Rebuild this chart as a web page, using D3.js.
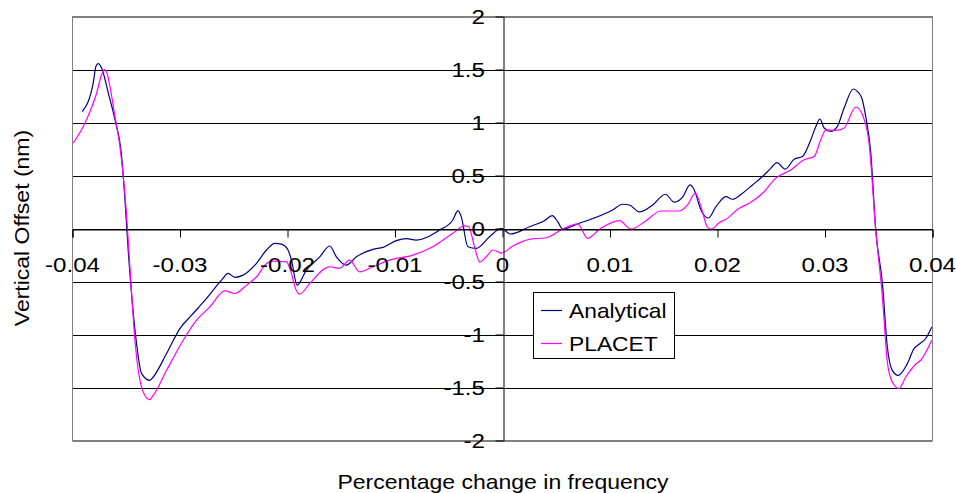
<!DOCTYPE html>
<html>
<head>
<meta charset="utf-8">
<script src="https://cdn.jsdelivr.net/npm/d3@7"></script>
<style>
  body { margin: 0; background: #fff; }
  text { font-family: "Liberation Sans", Arial, sans-serif; fill: #000; }
</style>
</head>
<body>
<script>
//Width and height
var w = 956;
var h = 493;

//Series names and colours
var seriesNames = ["Analytical", "PLACET"];
var seriesColors = ["#000080", "#ff00ff"];

//Tick values
var xTicks = [-0.04, -0.03, -0.02, -0.01, 0, 0.01, 0.02, 0.03, 0.04];
var yTicks = [-2, -1.5, -1, -0.5, 0, 0.5, 1, 1.5, 2];

//Analytical curve
var analyticalX = [-0.0391,-0.03807,-0.03782,-0.0376,-0.03729,-0.03667,-0.03605,-0.03543,-0.03512,-0.03482,
  -0.03404,-0.03357,-0.0328,-0.03249,-0.03125,-0.03001,-0.02892,-0.02753,-0.02614,-0.02552,
  -0.0249,-0.02413,-0.02289,-0.02196,-0.02118,-0.02056,-0.01995,-0.01963,-0.01911,-0.01824,
  -0.017,-0.01607,-0.01545,-0.01452,-0.01359,-0.01205,-0.01112,-0.00988,-0.00895,-0.00802,
  -0.00585,-0.00462,-0.00415,-0.00384,-0.00322,-0.00244,-0.00121,-0.0001,0.00074,0.00251,
  0.0039,0.00462,0.00514,0.0056,0.00715,0.01025,0.01118,0.0118,0.01273,0.01397,
  0.01515,0.01598,0.01675,0.01744,0.01784,0.01846,0.01914,0.01986,0.02079,0.0214,
  0.02233,0.02326,0.02419,0.02497,0.02552,0.0263,0.02713,0.0279,0.02868,0.02915,
  0.02952,0.02992,0.03054,0.03115,0.03178,0.03264,0.03301,0.03342,0.03379,0.03426,
  0.03472,0.03534,0.0358,0.03626,0.03682,0.03766,0.03828,0.03875,0.03937,0.03993];
var analyticalY = [1.102,1.373,1.530,1.556,1.515,1.278,1.026,0.679,0.270,-0.203,
  -1.086,-1.369,-1.433,-1.401,-1.180,-0.944,-0.818,-0.660,-0.487,-0.424,
  -0.461,-0.440,-0.329,-0.203,-0.140,-0.147,-0.203,-0.298,-0.534,-0.392,
  -0.267,-0.165,-0.267,-0.345,-0.267,-0.197,-0.178,-0.115,-0.096,-0.109,
  -0.014,0.080,0.168,0.112,-0.172,-0.187,-0.078,0.000,-0.052,0.017,
  0.074,0.121,0.064,-0.005,0.049,0.175,0.229,0.222,0.156,0.222,
  0.323,0.248,0.295,0.411,0.364,0.175,0.099,0.206,0.301,0.276,
  0.333,0.411,0.490,0.569,0.622,0.560,0.654,0.679,0.837,0.963,
  1.033,0.948,0.915,0.963,1.137,1.316,1.294,1.231,1.057,0.711,
  -0.014,-0.518,-1.118,-1.338,-1.385,-1.275,-1.133,-1.092,-1.038,-0.929];

//PLACET curve
var placetX = [-0.03993,-0.039,-0.03837,-0.03775,-0.03729,-0.03705,-0.03682,-0.03652,-0.03605,-0.03559,
  -0.03496,-0.03466,-0.03419,-0.03357,-0.03286,-0.03249,-0.03125,-0.0297,-0.02846,-0.02722,
  -0.02583,-0.0249,-0.02381,-0.02274,-0.02211,-0.02134,-0.0201,-0.01963,-0.01933,-0.01886,
  -0.01793,-0.01607,-0.01515,-0.01422,-0.01329,-0.01205,-0.0105,-0.00833,-0.00648,-0.00462,
  -0.00353,-0.00316,-0.0026,-0.00211,-0.00151,-0.0009,-0.0001,0.00096,0.00251,0.00406,
  0.0056,0.007,0.00793,0.00901,0.01087,0.01196,0.01335,0.01475,0.01645,0.01722,
  0.01793,0.01846,0.01908,0.01942,0.02016,0.02079,0.02202,0.02295,0.02419,0.02543,
  0.02682,0.02806,0.02899,0.02961,0.03008,0.03101,0.03178,0.03286,0.03348,0.0341,
  0.03472,0.03534,0.0358,0.03626,0.03689,0.03751,0.03844,0.0389,0.03993];
var placetY = [0.806,0.963,1.104,1.278,1.452,1.499,1.473,1.341,1.057,0.774,
  0.112,-0.361,-1.054,-1.496,-1.615,-1.574,-1.338,-1.054,-0.865,-0.739,
  -0.588,-0.613,-0.534,-0.440,-0.345,-0.307,-0.314,-0.424,-0.544,-0.619,
  -0.518,-0.361,-0.376,-0.298,-0.409,-0.361,-0.298,-0.251,-0.172,-0.045,
  0.024,0.019,-0.172,-0.317,-0.267,-0.203,-0.232,-0.165,-0.102,-0.087,
  -0.005,0.043,-0.093,-0.008,0.074,-0.005,0.074,0.165,0.165,0.222,
  0.333,0.206,0.011,-0.005,0.055,0.087,0.191,0.238,0.333,0.475,
  0.553,0.648,0.679,0.837,0.931,0.925,0.948,1.146,1.073,0.806,
  -0.014,-0.645,-1.260,-1.449,-1.511,-1.401,-1.281,-1.243,-1.054];

var seriesX = [analyticalX, placetX];
var seriesY = [analyticalY, placetY];

//Text is drawn a little wider than the font, like the original
var stretch = 1.15;

//Scales
var x = d3.scaleLinear().domain([-0.04, 0.04]).range([72.5, 932.5]);
var y = d3.scaleLinear().domain([-2, 2]).range([440.5, 16.5]);

//Create SVG element
var svg = d3.select("body")
            .append("svg")
            .attr("width", w)
            .attr("height", h);

//Horizontal gridlines
svg.append("g")
   .selectAll("line")
   .data(yTicks)
   .enter()
   .append("line")
   .attr("x1", x(-0.04))
   .attr("x2", x(0.04))
   .attr("y1", function(d) { return Math.round(y(d)) + 0.5; })
   .attr("y2", function(d) { return Math.round(y(d)) + 0.5; })
   .attr("stroke", function(d) { return (d === 2 || d === -2) ? "#808080" : "#000"; })
   .attr("stroke-width", 1);

//Plot area border
svg.append("rect")
   .attr("x", x(-0.04))
   .attr("y", y(2))
   .attr("width", x(0.04) - x(-0.04))
   .attr("height", y(-2) - y(2))
   .attr("fill", "none")
   .attr("stroke", "#808080");

//Curves
var line = d3.line()
             .x(function(d) { return x(d[0]); })
             .y(function(d) { return y(d[1]); })
             .curve(d3.curveMonotoneX);

seriesNames.forEach(function(name, i) {
    var pts = d3.zip(seriesX[i], seriesY[i]);
    svg.append("path")
       .datum(pts)
       .attr("d", line)
       .attr("fill", "none")
       .attr("stroke", seriesColors[i])
       .attr("stroke-width", 1.2);
});

//X axis on y = 0, ticks pointing down
var xAxis = svg.append("g")
   .attr("transform", "translate(0," + (Math.round(y(0)) + 0.5) + ")")
   .call(d3.axisBottom(x).tickValues(xTicks).tickSize(8).tickFormat(""));
xAxis.select(".domain").attr("stroke", "#000");
xAxis.selectAll(".tick line").attr("stroke", "#000");

//Y axis on x = 0, ticks pointing left
var yAxis = svg.append("g")
   .attr("transform", "translate(" + (Math.round(x(0)) + 0.5) + ",0)")
   .call(d3.axisLeft(y).tickValues(yTicks).tickSize(8).tickSizeOuter(0).tickFormat(""));
yAxis.select(".domain").attr("stroke", "#000");
yAxis.selectAll(".tick line").attr("stroke", "#000");

//Stretched text helper
function label(px, py, str, anchor, size, rot) {
    svg.append("text")
       .attr("transform", "translate(" + px + "," + py + ")" + (rot ? " rotate(" + rot + ")" : "") + " scale(" + stretch + ",1)")
       .attr("text-anchor", anchor)
       .style("font-size", size + "px")
       .text(str);
}

//Tick labels
xTicks.forEach(function(d) {
    label(x(d), 272, String(d), "middle", 21);
});
yTicks.forEach(function(d) {
    label(485, y(d) + 7.5, String(d), "end", 21);
});

//Axis titles
label(503, 489, "Percentage change in frequency", "middle", 20);
label(29, 228, "Vertical Offset (nm)", "middle", 20, -90);

//Legend
var legend = svg.append("g");
legend.append("rect")
      .attr("x", 533.5)
      .attr("y", 292.5)
      .attr("width", 141)
      .attr("height", 66)
      .attr("fill", "#fff")
      .attr("stroke", "#000");

seriesNames.forEach(function(name, i) {
    var ly = 310 + i * 33;
    legend.append("line")
          .attr("x1", 541)
          .attr("x2", 562)
          .attr("y1", ly + 0.5)
          .attr("y2", ly + 0.5)
          .attr("stroke", seriesColors[i])
          .attr("stroke-width", 1.2);
    legend.append("text")
          .attr("transform", "translate(569," + (ly + 7.5) + ") scale(1.14,1)")
          .style("font-size", "20px")
          .text(name);
});
</script>
</body>
</html>
